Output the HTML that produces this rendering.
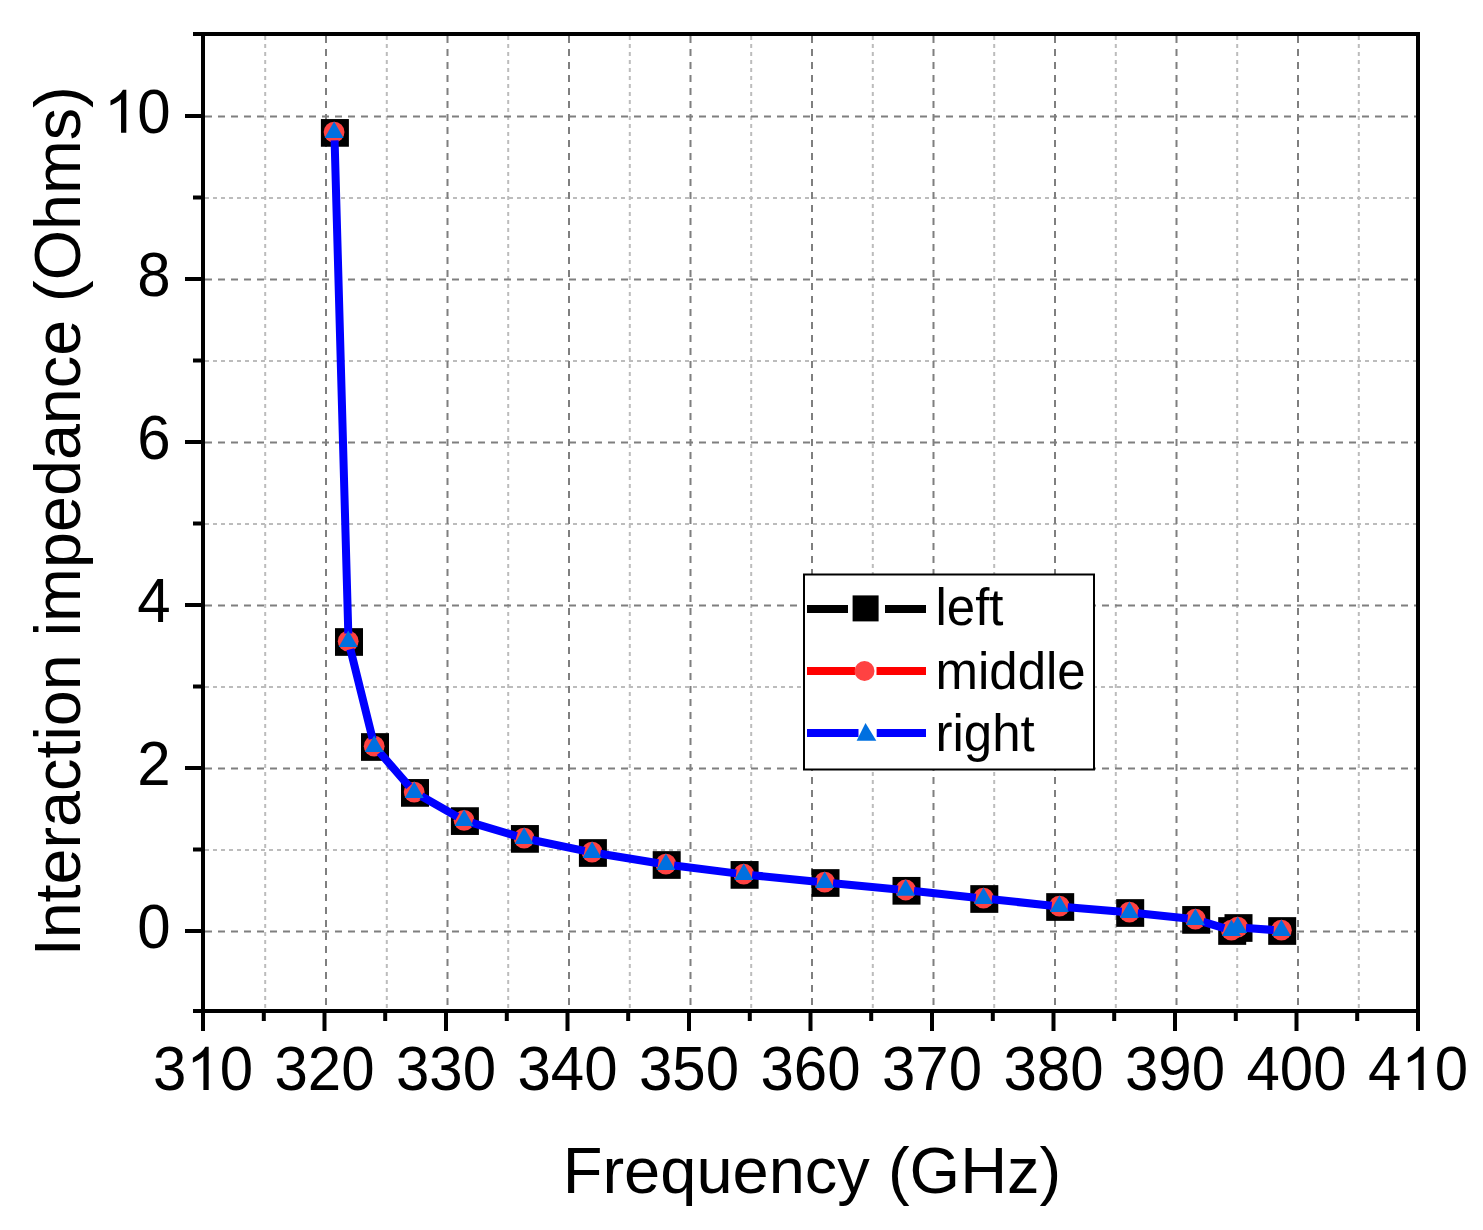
<!DOCTYPE html><html><head><meta charset="utf-8"><style>html,body{margin:0;padding:0;background:#fff;}svg{display:block;}text{font-family:"Liberation Sans",sans-serif;fill:#000;}</style></head><body>
<svg width="1483" height="1230" viewBox="0 0 1483 1230">
<rect x="0" y="0" width="1483" height="1230" fill="#fff"/>
<path d="M265.2 36V1009 M386.8 36V1009 M508.2 36V1009 M629.8 36V1009 M751.2 36V1009 M872.8 36V1009 M994.2 36V1009 M1115.8 36V1009 M1237.2 36V1009 M1358.8 36V1009 M205 850.0H1416 M205 687.0H1416 M205 524.0H1416 M205 361.0H1416 M205 198.0H1416" stroke="#bcbcbc" stroke-width="2" stroke-dasharray="4 4" fill="none"/>
<path d="M326.0 36V1009 M447.5 36V1009 M569.0 36V1009 M690.5 36V1009 M812.0 36V1009 M933.5 36V1009 M1055.0 36V1009 M1176.5 36V1009 M1298.0 36V1009 M205 931.5H1416 M205 768.5H1416 M205 605.5H1416 M205 442.5H1416 M205 279.5H1416 M205 116.5H1416" stroke="#7f7f7f" stroke-width="2" stroke-dasharray="7 6" fill="none"/>
<path d="M203 32V1031 M1418 32V1031 M193 34H1420 M193 1011H1420 M324.5 1013V1031 M446.0 1013V1031 M567.5 1013V1031 M689.0 1013V1031 M810.5 1013V1031 M932.0 1013V1031 M1053.5 1013V1031 M1175.0 1013V1031 M1296.5 1013V1031 M263.8 1013V1021 M385.2 1013V1021 M506.8 1013V1021 M628.2 1013V1021 M749.8 1013V1021 M871.2 1013V1021 M992.8 1013V1021 M1114.2 1013V1021 M1235.8 1013V1021 M1357.2 1013V1021 M185 931.0H201 M185 768.0H201 M185 605.0H201 M185 442.0H201 M185 279.0H201 M185 116.0H201 M193 849.5H201 M193 686.5H201 M193 523.5H201 M193 360.5H201 M193 197.5H201" stroke="#000" stroke-width="4" fill="none"/>
<text transform="translate(152.95 1090.00) scale(1 1.04)" font-size="60">3</text><path d="M763 0L583 0L583 1147Q518 1085 412 1023Q307 961 223 930L223 1104Q374 1175 487 1276Q600 1377 647 1472L763 1472Z" transform="translate(186.32 1090.00) scale(0.02930 -0.02930)" fill="#000"/><text transform="translate(219.68 1090.00) scale(1 1.04)" font-size="60">0</text>
<text transform="translate(274.45 1090.00) scale(1 1.04)" font-size="60">3</text><text transform="translate(307.82 1090.00) scale(1 1.04)" font-size="60">2</text><text transform="translate(341.18 1090.00) scale(1 1.04)" font-size="60">0</text>
<text transform="translate(395.95 1090.00) scale(1 1.04)" font-size="60">3</text><text transform="translate(429.32 1090.00) scale(1 1.04)" font-size="60">3</text><text transform="translate(462.68 1090.00) scale(1 1.04)" font-size="60">0</text>
<text transform="translate(517.45 1090.00) scale(1 1.04)" font-size="60">3</text><text transform="translate(550.82 1090.00) scale(1 1.04)" font-size="60">4</text><text transform="translate(584.18 1090.00) scale(1 1.04)" font-size="60">0</text>
<text transform="translate(638.95 1090.00) scale(1 1.04)" font-size="60">3</text><text transform="translate(672.32 1090.00) scale(1 1.04)" font-size="60">5</text><text transform="translate(705.68 1090.00) scale(1 1.04)" font-size="60">0</text>
<text transform="translate(760.45 1090.00) scale(1 1.04)" font-size="60">3</text><text transform="translate(793.82 1090.00) scale(1 1.04)" font-size="60">6</text><text transform="translate(827.18 1090.00) scale(1 1.04)" font-size="60">0</text>
<text transform="translate(881.95 1090.00) scale(1 1.04)" font-size="60">3</text><text transform="translate(915.32 1090.00) scale(1 1.04)" font-size="60">7</text><text transform="translate(948.68 1090.00) scale(1 1.04)" font-size="60">0</text>
<text transform="translate(1003.45 1090.00) scale(1 1.04)" font-size="60">3</text><text transform="translate(1036.82 1090.00) scale(1 1.04)" font-size="60">8</text><text transform="translate(1070.18 1090.00) scale(1 1.04)" font-size="60">0</text>
<text transform="translate(1124.95 1090.00) scale(1 1.04)" font-size="60">3</text><text transform="translate(1158.32 1090.00) scale(1 1.04)" font-size="60">9</text><text transform="translate(1191.68 1090.00) scale(1 1.04)" font-size="60">0</text>
<text transform="translate(1246.45 1090.00) scale(1 1.04)" font-size="60">4</text><text transform="translate(1279.82 1090.00) scale(1 1.04)" font-size="60">0</text><text transform="translate(1313.18 1090.00) scale(1 1.04)" font-size="60">0</text>
<text transform="translate(1367.95 1090.00) scale(1 1.04)" font-size="60">4</text><path d="M763 0L583 0L583 1147Q518 1085 412 1023Q307 961 223 930L223 1104Q374 1175 487 1276Q600 1377 647 1472L763 1472Z" transform="translate(1401.32 1090.00) scale(0.02930 -0.02930)" fill="#000"/><text transform="translate(1434.68 1090.00) scale(1 1.04)" font-size="60">0</text>
<text transform="translate(137.33 947.80) scale(1 1.04)" font-size="60">0</text>
<text transform="translate(137.33 784.80) scale(1 1.04)" font-size="60">2</text>
<text transform="translate(137.33 621.80) scale(1 1.04)" font-size="60">4</text>
<text transform="translate(137.33 458.80) scale(1 1.04)" font-size="60">6</text>
<text transform="translate(137.33 295.80) scale(1 1.04)" font-size="60">8</text>
<path d="M763 0L583 0L583 1147Q518 1085 412 1023Q307 961 223 930L223 1104Q374 1175 487 1276Q600 1377 647 1472L763 1472Z" transform="translate(103.96 132.80) scale(0.02930 -0.02930)" fill="#000"/><text transform="translate(137.33 132.80) scale(1 1.04)" font-size="60">0</text>
<text x="812" y="1193" font-size="65" text-anchor="middle">Frequency (GHz)</text>
<text transform="translate(80 521.3) rotate(-90)" x="0" y="0" font-size="64.7" text-anchor="middle">Interaction impedance (Ohms)</text>
<rect x="320.9" y="119.05" width="28" height="27.7" fill="#000"/><rect x="335.0" y="628.15" width="28" height="27.7" fill="#000"/><rect x="361.0" y="733.15" width="28" height="27.7" fill="#000"/><rect x="401.0" y="779.05" width="28" height="27.7" fill="#000"/><rect x="450.9" y="807.25" width="28" height="27.7" fill="#000"/><rect x="510.9" y="825.05" width="28" height="27.7" fill="#000"/><rect x="578.9" y="839.15" width="28" height="27.7" fill="#000"/><rect x="652.7" y="851.15" width="28" height="27.7" fill="#000"/><rect x="730.6" y="861.05" width="28" height="27.7" fill="#000"/><rect x="811.5" y="869.15" width="28" height="27.7" fill="#000"/><rect x="892.5" y="876.95" width="28" height="27.7" fill="#000"/><rect x="970.3" y="885.15" width="28" height="27.7" fill="#000"/><rect x="1046.2" y="893.15" width="28" height="27.7" fill="#000"/><rect x="1116.2" y="899.15" width="28" height="27.7" fill="#000"/><rect x="1182.2" y="906.05" width="28" height="27.7" fill="#000"/><rect x="1218.2" y="917.15" width="28" height="27.7" fill="#000"/><rect x="1224.5" y="914.15" width="28" height="27.7" fill="#000"/><rect x="1268.2" y="917.15" width="28" height="27.7" fill="#000"/>
<circle cx="334.1" cy="132.1" r="10.4" fill="#ff4242"/><circle cx="348.2" cy="641.2" r="10.4" fill="#ff4242"/><circle cx="374.2" cy="746.2" r="10.4" fill="#ff4242"/><circle cx="414.2" cy="792.1" r="10.4" fill="#ff4242"/><circle cx="464.1" cy="820.3" r="10.4" fill="#ff4242"/><circle cx="524.1" cy="838.1" r="10.4" fill="#ff4242"/><circle cx="592.1" cy="852.2" r="10.4" fill="#ff4242"/><circle cx="665.9" cy="864.2" r="10.4" fill="#ff4242"/><circle cx="743.8" cy="874.1" r="10.4" fill="#ff4242"/><circle cx="824.7" cy="882.2" r="10.4" fill="#ff4242"/><circle cx="905.7" cy="890.0" r="10.4" fill="#ff4242"/><circle cx="983.5" cy="898.2" r="10.4" fill="#ff4242"/><circle cx="1059.4" cy="906.2" r="10.4" fill="#ff4242"/><circle cx="1129.4" cy="912.2" r="10.4" fill="#ff4242"/><circle cx="1195.4" cy="919.1" r="10.4" fill="#ff4242"/><circle cx="1231.4" cy="930.2" r="10.4" fill="#ff4242"/><circle cx="1237.7" cy="927.2" r="10.4" fill="#ff4242"/><circle cx="1281.4" cy="930.2" r="10.4" fill="#ff4242"/>
<path d="M334.6 140.4L348.3 633.5 M350.4 649.3L372.6 738.7 M379.8 752.5L409.2 786.4 M421.5 796.3L457.4 816.7 M472.1 822.9L516.7 836.1 M532.2 840.0L584.6 850.9 M600.3 853.8L658.3 863.2 M674.1 865.5L736.2 873.4 M752.1 875.2L817.0 881.7 M833.0 883.3L898.0 889.5 M914.0 891.1L975.8 897.7 M991.8 899.3L1051.7 905.7 M1067.7 907.2L1121.7 911.8 M1137.7 913.3L1187.7 918.6 M1203.3 921.8L1224.1 928.1 M1246.0 928.0L1273.7 930.0" stroke="#0000ff" stroke-width="8" fill="none"/>
<polygon points="334.1,121.4 343.6,137.9 324.6,137.9" fill="#0070e0"/><polygon points="348.2,630.5 357.7,647.0 338.7,647.0" fill="#0070e0"/><polygon points="374.2,735.5 383.7,752.0 364.7,752.0" fill="#0070e0"/><polygon points="414.2,781.4 423.7,797.9 404.7,797.9" fill="#0070e0"/><polygon points="464.1,809.6 473.6,826.1 454.6,826.1" fill="#0070e0"/><polygon points="524.1,827.4 533.6,843.9 514.6,843.9" fill="#0070e0"/><polygon points="592.1,841.5 601.6,858.0 582.6,858.0" fill="#0070e0"/><polygon points="665.9,853.5 675.4,870.0 656.4,870.0" fill="#0070e0"/><polygon points="743.8,863.4 753.3,879.9 734.3,879.9" fill="#0070e0"/><polygon points="824.7,871.5 834.2,888.0 815.2,888.0" fill="#0070e0"/><polygon points="905.7,879.3 915.2,895.8 896.2,895.8" fill="#0070e0"/><polygon points="983.5,887.5 993.0,904.0 974.0,904.0" fill="#0070e0"/><polygon points="1059.4,895.5 1068.9,912.0 1049.9,912.0" fill="#0070e0"/><polygon points="1129.4,901.5 1138.9,918.0 1119.9,918.0" fill="#0070e0"/><polygon points="1195.4,908.4 1204.9,924.9 1185.9,924.9" fill="#0070e0"/><polygon points="1231.4,919.5 1240.9,936.0 1221.9,936.0" fill="#0070e0"/><polygon points="1237.7,916.5 1247.2,933.0 1228.2,933.0" fill="#0070e0"/><polygon points="1281.4,919.5 1290.9,936.0 1271.9,936.0" fill="#0070e0"/>
<rect x="804" y="574.5" width="290" height="195" fill="#fff" stroke="#000" stroke-width="2"/>
<path d="M807 609H848M885 609H926" stroke="#000" stroke-width="8"/>
<rect x="852.6" y="595.4" width="26" height="26" fill="#000"/>
<path d="M807 671H855M876.5 671H926" stroke="#ff0000" stroke-width="8"/>
<circle cx="864.5" cy="671" r="10" fill="#ff4242"/>
<path d="M807 733H858.5M876.7 733H926" stroke="#0000ff" stroke-width="8"/>
<polygon points="865.5,723 876.3,740.7 856.6,740.7" fill="#0070e0"/>
<text x="935.5" y="624.7" font-size="51">left</text>
<text x="935.5" y="689" font-size="51">middle</text>
<text x="935.5" y="751" font-size="51">right</text>
</svg></body></html>
